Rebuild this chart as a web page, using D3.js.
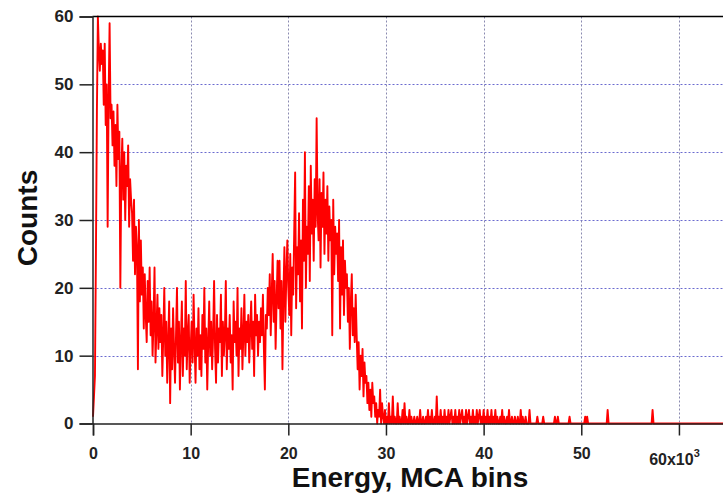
<!DOCTYPE html>
<html>
<head>
<meta charset="utf-8">
<script src="https://cdn.jsdelivr.net/npm/d3@7"></script>
<style>
  html, body { margin: 0; padding: 0; background: #fff; overflow: hidden; }
  svg { display: block; }
  .tick text { font-family: "Liberation Sans", Arial, sans-serif; font-weight: bold; fill: #222; }
</style>
</head>
<body>
<svg id="chart" width="723" height="496"></svg>
<script>
// ---- data (counts per 100-bin step) ----
const binStep = 100;
// 0 .. 29 900
const counts = [
  1, 4, 7, 25, 46, 60, 55, 52, 56, 53,
  55, 47, 56, 44, 50, 29, 48, 59, 45, 47,
  41, 46, 38, 44, 35, 47, 39, 43, 20, 37,
  42, 33, 40, 30, 38, 35, 41, 29, 36, 33,
  31, 24, 33, 22, 29, 26, 8, 30, 18, 27,
  19, 23, 14, 22, 16, 12, 21, 15, 23, 13,
  18, 10, 15, 23, 9, 14, 19, 11, 17, 12,
  16, 7, 13, 20, 10, 15, 6, 12, 18, 3,
  14, 8, 17, 11, 6, 13, 20, 9, 15, 5,
  12, 18, 7, 14, 10, 21, 8, 13, 16, 6,
  11, 15, 9, 19, 12, 6, 14, 10, 17, 8,
  13, 7, 16, 11, 20, 9, 14, 5, 12, 18,
  10, 15, 8, 13, 21, 11, 6, 16, 9, 14,
  12, 19, 7, 15, 10, 13, 21, 8, 14, 11,
  16, 9, 13, 5, 18, 12, 15, 10, 20, 7,
  14, 11, 17, 8, 13, 19, 10, 15, 12, 16,
  9, 14, 18, 11, 15, 7, 19, 13, 16, 10,
  15, 12, 17, 13, 19, 11, 5, 16, 14, 20,
  16, 22, 13, 19, 25, 15, 21, 11, 18, 24,
  17, 24, 14, 21, 8, 19, 26, 15, 22, 27,
  20, 16, 25, 13, 23, 19, 28, 37, 17, 26,
  22, 31, 18, 27, 14, 33, 24, 40, 20, 29,
  25, 35, 21, 38, 28, 33, 24, 36, 29, 45,
  31, 27, 36, 23, 34, 29, 37, 25, 33, 28,
  35, 24, 32, 27, 30, 13, 33, 22, 29, 25,
  28, 21, 30, 14, 26, 19, 27, 16, 24, 20,
  22, 15, 20, 11, 18, 22, 13, 17, 12, 19,
  13, 8, 12, 5, 10, 7, 11, 4, 9, 6,
  7, 3, 6, 2, 5, 1, 6, 3, 4, 1,
  3, 0, 2, 1, 5, 0, 3, 1, 0, 2
];
// 30 000 .. 44 900
const tailCounts = [
  0, 1, 0, 3, 0, 1, 0, 4, 0, 1,
  0, 0, 3, 0, 1, 0, 0, 2, 0, 3,
  0, 1, 0, 0, 2, 0, 1, 0, 0, 1,
  0, 0, 1, 0, 0, 2, 0, 0, 1, 0,
  0, 1, 0, 2, 0, 1, 0, 2, 0, 0,
  1, 0, 4, 0, 1, 0, 2, 0, 1, 0,
  2, 0, 1, 0, 2, 0, 1, 2, 0, 1,
  0, 2, 0, 1, 0, 2, 0, 1, 2, 0,
  1, 0, 2, 0, 1, 2, 0, 1, 0, 2,
  0, 1, 0, 2, 0, 1, 2, 0, 1, 0,
  2, 0, 1, 0, 2, 0, 1, 0, 2, 0,
  1, 0, 2, 0, 1, 0, 0, 1, 0, 2,
  0, 1, 0, 0, 1, 0, 2, 0, 0, 1,
  0, 0, 1, 0, 0, 1, 0, 0, 2, 0,
  1, 0, 0, 1, 0, 0, 0, 2, 0, 0
];
const tailStart = 30000;
// isolated counts above 45 000 (all other bins are 0)
const sparseBins   = [45500, 46100, 47300, 47600, 48800, 50400, 50600, 52700, 57300];
const sparseCounts = [1, 1, 1, 1, 1, 1, 1, 2, 2];
const sparseStart = 45000, lastBin = 65500;

const xTicks = [0, 10000, 20000, 30000, 40000, 50000, 60000];
const xTickLabels = ["0", "10", "20", "30", "40", "50", "60x10"];
const yTicks = [0, 10, 20, 30, 40, 50, 60];
const xTitle = "Energy, MCA bins";
const yTitle = "Counts";

(function draw() {
  // ---- build series ----
  const series = [];
  counts.forEach((c, i) => series.push({ x: i * binStep, y: c }));
  tailCounts.forEach((c, i) => series.push({ x: tailStart + i * binStep, y: c }));
  const sparseMap = new Map(sparseBins.map((b, i) => [b, sparseCounts[i]]));
  for (let b = sparseStart; b <= lastBin; b += binStep) series.push({ x: b, y: sparseMap.get(b) || 0 });

  // ---- layout ----
  const svg = d3.select("#chart");
  const pL = 92.5, pT = 16.5, pB = 423.5, pR = 740;
  const x = d3.scaleLinear().domain([0, 65536]).range([93, 733]);
  const y = d3.scaleLinear().domain([0, 60]).range([pB, pT]);

  // grid
  const grid = svg.append("g").attr("stroke", "#6a6acf").attr("stroke-width", 1).attr("stroke-dasharray", "2,2");
  grid.selectAll("line.h").data(yTicks.filter(d => d > 0 && d < 60)).join("line")
    .attr("class", "h")
    .attr("x1", pL).attr("x2", pR)
    .attr("y1", d => Math.round(y(d)) + 0.5).attr("y2", d => Math.round(y(d)) + 0.5);
  grid.selectAll("line.v").data(xTicks.filter(d => d > 0)).join("line")
    .attr("class", "v")
    .attr("stroke", "#8a8ab0")
    .attr("x1", d => Math.round(x(d)) + 0.5).attr("x2", d => Math.round(x(d)) + 0.5)
    .attr("y1", pT).attr("y2", pB);

  // data line
  const line = d3.line().x(d => x(d.x)).y(d => y(d.y));
  svg.append("path").datum(series)
    .attr("fill", "none").attr("stroke", "#ff0000").attr("stroke-width", 1.9)
    .attr("stroke-linejoin", "round").attr("d", line);

  // frame
  svg.append("line").attr("x1", pL).attr("x2", pR).attr("y1", pT).attr("y2", pT)
    .attr("stroke", "#000").attr("stroke-width", 1.6);

  // axes
  const yAxis = d3.axisLeft(y).tickValues(yTicks).tickSize(13).tickPadding(6).tickFormat(d3.format("d"));
  const gy = svg.append("g").attr("transform", `translate(${pL},0)`).call(yAxis);
  gy.selectAll(".tick text").attr("font-size", 17);
  gy.select(".domain").attr("stroke", "#222").attr("stroke-width", 1.5);
  gy.selectAll(".tick line").attr("stroke", "#222").attr("stroke-width", 1.5);

  const xAxis = d3.axisBottom(x).tickValues(xTicks).tickSize(12).tickPadding(12)
    .tickFormat((d, i) => xTickLabels[i]);
  const gx = svg.append("g").attr("transform", `translate(0,${pB})`).call(xAxis);
  gx.select(".domain").attr("stroke", "#222").attr("stroke-width", 1.5);
  gx.selectAll(".tick line").attr("stroke", "#222").attr("stroke-width", 1.5);
  gx.selectAll(".tick text").attr("font-size", 16);
  const lastText = gx.selectAll(".tick").filter((d, i) => i === xTicks.length - 1).select("text");
  lastText.attr("dx", -5).attr("y", 30).attr("font-size", 16);
  lastText.append("tspan").attr("dy", "-0.7em").attr("font-size", 11).text("3");

  // titles
  svg.append("text").attr("x", 410).attr("y", 487).attr("text-anchor", "middle")
    .attr("font-family", "Liberation Sans, Arial, sans-serif").attr("font-weight", "bold")
    .attr("font-size", 28).attr("fill", "#111").text(xTitle);
  svg.append("text").attr("transform", "translate(37,218) rotate(-90)").attr("text-anchor", "middle")
    .attr("font-family", "Liberation Sans, Arial, sans-serif").attr("font-weight", "bold")
    .attr("font-size", 28).attr("fill", "#111").text(yTitle);
})();
</script>
</body>
</html>
